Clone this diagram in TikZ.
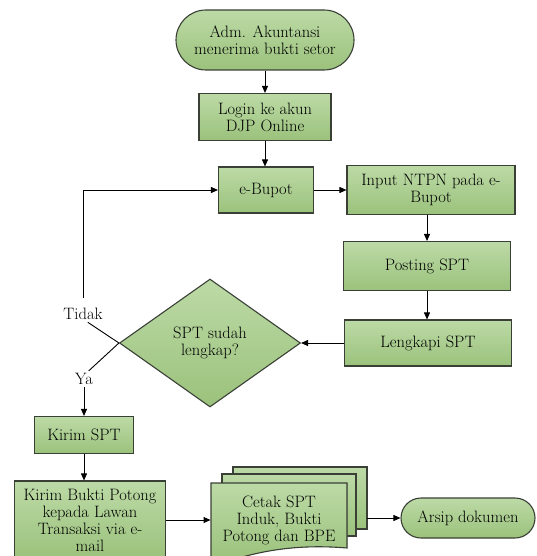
\documentclass[tikz,border=0pt]{standalone}
\usepackage{fontspec}
\usetikzlibrary{shapes.geometric,shapes.misc,arrows.meta}

\definecolor{hijauatas}{RGB}{188,218,166}
\definecolor{hijaubawah}{RGB}{155,194,124}
\definecolor{garis}{RGB}{58,64,54}

\begin{document}
\begin{tikzpicture}[x=1pt, y=-1pt, >={Triangle[length=7pt,width=6pt]}, line width=0.9pt,
    every node/.style={font=\addfontfeatures{FakeBold=0.4}\fontsize{16.5}{17}\selectfont, align=center, inner sep=1pt},
    kotak/.style={rectangle, draw=garis, line width=1.1pt, top color=hijauatas, bottom color=hijaubawah},
    ujung/.style={rounded rectangle, draw=garis, line width=1.1pt, top color=hijauatas, bottom color=hijaubawah},
    putusan/.style={diamond, draw=garis, line width=1.1pt, top color=hijauatas, bottom color=hijaubawah, inner sep=0pt},
    halaman/.style={draw=garis, line width=1.1pt, top color=hijauatas, bottom color=hijaubawah},
    ket/.style={inner sep=2pt}]
    \useasboundingbox (0,0) rectangle (537,556);

    % 流程节点
    \node[ujung, minimum width=180pt, minimum height=60pt] (mulai) at (265,40) {Adm. Akuntansi\\menerima bukti setor};
    \node[kotak, minimum width=132pt, minimum height=47pt] (login) at (265,117) {Login ke akun\\DJP Online};
    \node[kotak, minimum width=95pt, minimum height=46pt] (ebupot) at (266,190) {e-Bupot};
    \node[kotak, minimum width=168pt, minimum height=49pt] (input) at (431,190) {Input NTPN pada e-\\Bupot};
    \node[kotak, minimum width=167pt, minimum height=49pt] (posting) at (427,266) {Posting SPT};
    \node[kotak, minimum width=167pt, minimum height=46pt] (lengkapi) at (428,343) {Lengkapi SPT};
    \node[putusan, minimum width=181pt, minimum height=128pt] (cek) at (210,343) {SPT sudah\\lengkap?};
    \node[kotak, minimum width=99pt, minimum height=37pt] (kirim) at (84,435) {Kirim SPT};
    \node[kotak, minimum width=151pt, minimum height=78pt] (bukti) at (90,520) {Kirim Bukti Potong\\kepada Lawan\\Transaksi via e-\\mail};

    % 多文档
    \filldraw[halaman] (233,467) rectangle (367,529);
    \filldraw[halaman] (222,474) rectangle (356,536);
    \filldraw[halaman] (211,483) -- (347,483) -- (347,548) .. controls (300,544) and (262,550) .. (226,562) -- (211,562) -- cycle;
    \node[minimum width=136pt, minimum height=74pt] (cetak) at (279,520) {Cetak SPT\\Induk, Bukti\\Potong dan BPE};
    \node[ujung, minimum width=136pt, minimum height=40pt] (arsip) at (468,518) {Arsip dokumen};

    % 标注
    \node[ket] (tidak) at (83,314) {Tidak};
    \node[ket] (ya) at (84,379) {Ya};

    % 连线
    \draw[->] (mulai.south) -- (login.north);
    \draw[->] (login.south) -- (login.south |- ebupot.north);
    \draw[->] (ebupot.east) -- (ebupot.east -| input.west);
    \draw[->] (input.south -| posting.north) -- (posting.north);
    \draw[->] (posting.south) -- (posting.south |- lengkapi.north);
    \draw[->] (lengkapi.west) -- (cek.east);
    \draw (cek.west) -- (tidak.300);
    \draw[->, shorten <=8pt] (tidak.north) |- (ebupot.west);
    \draw (cek.west) -- (ya.60);
    \draw[->] (ya.south) -- (kirim.north);
    \draw[->] (kirim.south) -- (kirim.south |- bukti.north);
    \draw[->] (bukti.east) -- (cetak.west);
    \draw[->] ([xshift=20pt]cetak.east |- arsip.west) -- (arsip.west);
\end{tikzpicture}
\end{document}
